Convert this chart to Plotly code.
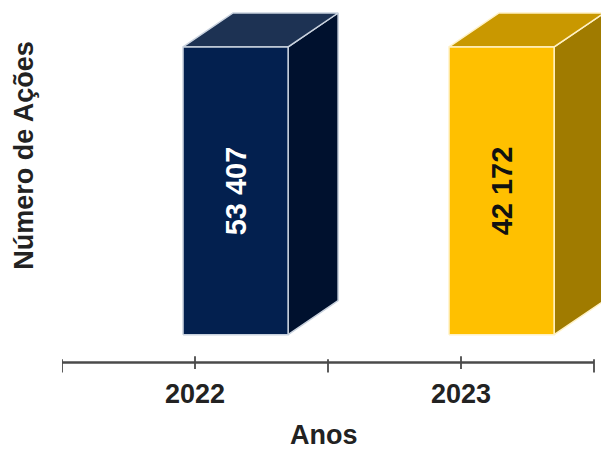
import plotly.graph_objects as go

# ---- data ----
anos = ["2022", "2023"]
acoes = [53407, 42172]
totais = [53407, 42172]  # 100% stacked: each column is its own total

# ---- style ----
front_cols = ["#03204F", "#FFC000"]
top_cols = ["#1D3253", "#C99800"]
side_cols = ["#00112E", "#A07B00"]
edge_cols = ["#C9D2DE", "#FFF1C4"]
label_cols = ["#FFFFFF", "#111111"]
FONT = "Liberation Sans, Arial, sans-serif"

off_l, off_r = -0.045, 0.35   # front face extent relative to category centre
ddx, ddy = 0.188, 11.8         # 3D depth offset (x units, y units)

fig = go.Figure()
for i, (cat, v, tot) in enumerate(zip(anos, acoes, totais)):
    h = v / tot * 100.0
    x0, x1 = i + off_l, i + off_r
    side_x = [x1, x1 + ddx, x1 + ddx, x1, x1]
    side_y = [0, ddy, h + ddy, h, 0]
    top_x = [x0, x0 + ddx, x1 + ddx, x1, x0]
    top_y = [h, h + ddy, h + ddy, h, h]
    front_x = [x0, x1, x1, x0, x0]
    front_y = [0, 0, h, h, 0]
    for xs, ys, c in [(side_x, side_y, side_cols[i]), (top_x, top_y, top_cols[i]),
                      (front_x, front_y, front_cols[i])]:
        fig.add_trace(go.Scatter(x=xs, y=ys, mode="lines", fill="toself",
                                 fillcolor=c, line=dict(color=edge_cols[i], width=1.5),
                                 hoverinfo="skip", showlegend=False))
    fig.add_annotation(x=(x0 + x1) / 2, y=h / 2, text=f"{v:,}".replace(",", " "),
                       textangle=-90, showarrow=False, xref="x", yref="y",
                       font=dict(family=FONT, size=29, color=label_cols[i], weight="bold"))

y_axis_pos = -9.72
y_min = -14.72
AX_COL = "#4A4A4A"
# axis line and ticks
fig.add_shape(type="line", x0=-0.5, x1=1.5, y0=y_axis_pos, y1=y_axis_pos,
              xref="x", yref="y", line=dict(color=AX_COL, width=2.5))
for t in [-0.5, 0.5, 1.5]:
    fig.add_shape(type="line", x0=t, x1=t, y0=y_axis_pos + 1.2, y1=y_axis_pos - 3.4,
                  xref="x", yref="y", line=dict(color=AX_COL, width=1.8))
for t in [0, 1]:
    fig.add_shape(type="line", x0=t, x1=t, y0=y_axis_pos + 2.2, y1=y_axis_pos - 2.2,
                  xref="x", yref="y", line=dict(color=AX_COL, width=1.8))

# axis titles
fig.add_annotation(x=-0.0705, y=0.5866, xref="paper", yref="paper",
                   text="Número de Ações", textangle=-90, showarrow=False,
                   xanchor="center", yanchor="middle",
                   font=dict(family=FONT, size=27, color="#222222", weight="bold"))
fig.add_annotation(x=0.486, y=-0.153, xref="paper", yref="paper",
                   text="Anos", showarrow=False, xanchor="center", yanchor="middle",
                   font=dict(family=FONT, size=27, color="#222222", weight="bold"))

fig.update_layout(
    width=601, height=450,
    margin=dict(l=62, r=0, t=0, b=72.6),
    paper_bgcolor="white", plot_bgcolor="white",
    xaxis=dict(range=[-0.5, -0.5 + 539 / 266], tickvals=[0, 1], ticktext=anos,
               showgrid=False, zeroline=False, showline=False, ticks="",
               ticklabelstandoff=-2, automargin=False,
               tickfont=dict(family=FONT, size=27, color="#222222", weight="bold")),
    yaxis=dict(range=[y_min, 116.32], showgrid=False, zeroline=False,
               showline=False, showticklabels=False, ticks="", automargin=False),
)
fig.write_html("out.html", config={"displayModeBar": False},
               post_script="document.body.style.margin='0';")
